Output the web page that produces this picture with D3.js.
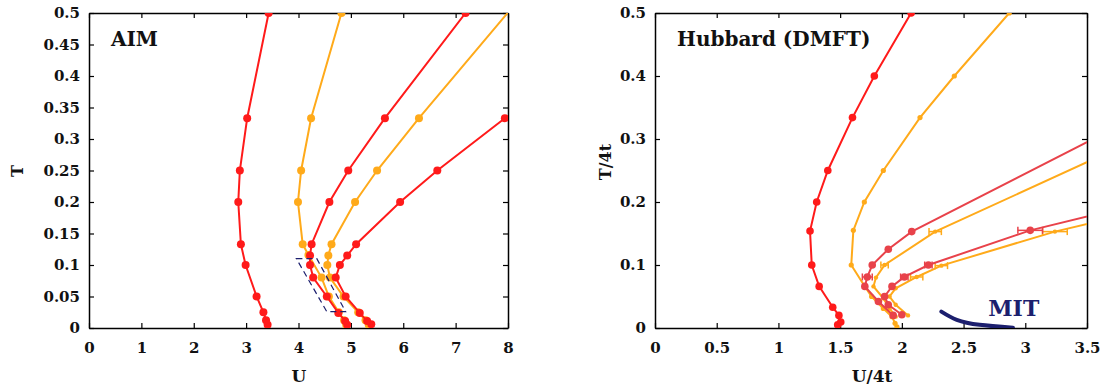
<!DOCTYPE html>
<html>
<head>
<meta charset="utf-8">
<script src="https://cdn.jsdelivr.net/npm/d3@7"></script>
<style>
  body { margin: 0; background: #fff; }
  svg text { font-family: "DejaVu Serif", serif; font-weight: bold; fill: #111; }
  .tick text { font-size: 15px; }
  .domain { stroke: #000; stroke-width: 1.5; }
  .tick line { stroke: #000; stroke-width: 1.2; }
</style>
</head>
<body>
<div id="chart"></div>
<script>
// ---- AIM panel (U, T) ----
var aimRed1U = [3.41, 3.38, 3.33, 3.2, 2.99, 2.9, 2.85, 2.88, 3.02, 3.43];
var aimRed1T = [0.005, 0.0125, 0.025, 0.05, 0.1, 0.133, 0.2, 0.25, 0.333, 0.5];
var aimOrange1U = [4.91, 4.87, 4.77, 4.58, 4.44, 4.19, 4.08, 3.99, 4.05, 4.24, 4.82];
var aimOrange1T = [0.005, 0.0125, 0.025, 0.05, 0.08, 0.116, 0.133, 0.2, 0.25, 0.333, 0.5];
var aimRed2U = [4.93, 4.89, 4.76, 4.54, 4.28, 4.22, 4.22, 4.25, 4.59, 4.95, 5.65, 7.19];
var aimRed2T = [0.005, 0.011, 0.024, 0.05, 0.08, 0.1, 0.115, 0.133, 0.2, 0.25, 0.333, 0.5];
var aimOrange2U = [5.34, 5.28, 5.14, 4.86, 4.6, 4.55, 4.57, 4.63, 5.08, 5.5, 6.3, 8.6];
var aimOrange2T = [0.005, 0.0125, 0.025, 0.05, 0.08, 0.1, 0.115, 0.133, 0.2, 0.25, 0.333, 0.56];
var aimRed3U = [5.39, 5.31, 5.17, 4.9, 4.71, 4.79, 4.93, 5.1, 5.94, 6.65, 7.94];
var aimRed3T = [0.006, 0.011, 0.024, 0.05, 0.08, 0.1, 0.115, 0.133, 0.2, 0.25, 0.333];
var boxU = [3.96, 4.35, 4.9, 4.54];
var boxT = [0.11, 0.11, 0.026, 0.026];

// ---- Hubbard (DMFT) panel (U/4t, T/4t) ----
var hubRed1U = [1.48, 1.505, 1.49, 1.44, 1.33, 1.27, 1.256, 1.31, 1.4, 1.6, 1.777, 2.075];
var hubRed1T = [0.005, 0.0095, 0.02, 0.033, 0.066, 0.1, 0.154, 0.2, 0.25, 0.334, 0.4, 0.5];
var hubOrange1U = [1.96, 1.945, 1.92, 1.85, 1.755, 1.70, 1.59, 1.607, 1.696, 1.85, 2.147, 2.425, 2.87];
var hubOrange1T = [0.002, 0.0075, 0.018, 0.031, 0.05, 0.066, 0.1, 0.155, 0.2, 0.25, 0.334, 0.4, 0.5];
var hubRed2U = [1.93, 1.81, 1.70, 1.72, 1.76, 1.89, 2.08, 4.0];
var hubRed2T = [0.02, 0.042, 0.066, 0.081, 0.1, 0.125, 0.153, 0.345];
var hubRed2Err = [0, 0, 0, 0.04, 0, 0, 0, 0];
var hubOrange2U = [1.95, 1.9, 1.85, 1.77, 1.79, 1.86, 2.27, 4.0];
var hubOrange2T = [0.018, 0.031, 0.047, 0.066, 0.08, 0.1, 0.153, 0.308];
var hubOrange2Err = [0, 0, 0, 0, 0, 0.03, 0.05, 0];
var hubRed3U = [2.0, 1.89, 1.86, 1.92, 2.02, 2.215, 3.04, 4.5];
var hubRed3T = [0.021, 0.037, 0.05, 0.066, 0.081, 0.1, 0.155, 0.225];
var hubRed3Err = [0, 0, 0, 0, 0.03, 0.03, 0.1, 0];
var hubOrange3U = [2.05, 1.95, 1.9, 1.95, 2.12, 2.32, 3.24, 4.5];
var hubOrange3T = [0.02, 0.037, 0.05, 0.063, 0.081, 0.099, 0.153, 0.211];
var hubOrange3Err = [0, 0, 0, 0, 0.05, 0.05, 0.1, 0];
var mitU = [2.32, 2.445, 2.63, 2.9];
var mitT = [0.026, 0.013, 0.005, 0.0005];

var aimXTicks = [0, 1, 2, 3, 4, 5, 6, 7, 8];
var aimYTicks = [0, 0.05, 0.1, 0.15, 0.2, 0.25, 0.3, 0.35, 0.4, 0.45, 0.5];
var hubXTicks = [0, 0.5, 1, 1.5, 2, 2.5, 3, 3.5];
var hubYTicks = [0, 0.1, 0.2, 0.3, 0.4, 0.5];

var RED = "#ff1a1a", ORANGE = "#ffaa1a", RED2 = "#e8424a", NAVY = "#1c1f6e";

let zip = (us, ts, errs)=> us.map((u, i)=> ({u: u, t: ts[i], e: errs ? errs[i] : 0}));

let svg = d3.select('#chart').append('svg')
  .attr('width', 1106).attr('height', 392);

let fmt = (d)=> d === 0 ? "0" : String(+d.toFixed(2));

let drawPanel = (opt)=> {
  let x = d3.scaleLinear().domain(opt.xDomain).range([opt.left, opt.right]);
  let y = d3.scaleLinear().domain([0, 0.5]).range([opt.bottom, opt.top]);

  let g = svg.append('g');
  let clipId = 'clip-' + opt.name;
  svg.append('clipPath').attr('id', clipId).append('rect')
    .attr('x', opt.left).attr('y', opt.top)
    .attr('width', opt.right - opt.left).attr('height', opt.bottom - opt.top);

  // axes, ticks pointing in
  g.append('g').attr('transform', `translate(0,${opt.bottom})`)
    .call(d3.axisBottom(x).tickValues(opt.xTicks).tickSizeInner(-5).tickSizeOuter(0).tickPadding(14).tickFormat(fmt));
  g.append('g').attr('transform', `translate(0,${opt.top})`)
    .call(d3.axisTop(x).tickValues(opt.xTicks).tickSizeInner(-5).tickSizeOuter(0).tickFormat(''));
  g.append('g').attr('transform', `translate(${opt.left},0)`)
    .call(d3.axisLeft(y).tickValues(opt.yTicks).tickSizeInner(-5).tickSizeOuter(0).tickPadding(9).tickFormat(fmt));
  g.append('g').attr('transform', `translate(${opt.right},0)`)
    .call(d3.axisRight(y).tickValues(opt.yTicks).tickSizeInner(-5).tickSizeOuter(0).tickFormat(''));
  g.selectAll('.tick text').attr('fill', '#111');

  let plot = g.append('g').attr('clip-path', `url(#${clipId})`);
  let line = d3.line().x((d)=> x(d.u)).y((d)=> y(d.t));

  opt.series.forEach((s)=> {
    let pts = zip(s.u, s.t, s.err);
    plot.append('path').datum(pts)
      .attr('fill', 'none').attr('stroke', s.color).attr('stroke-width', 2)
      .attr('d', line);
    // error bars
    let eb = pts.filter((d)=> d.e > 0);
    eb.forEach((d)=> {
      let eg = plot.append('g').attr('stroke', s.color).attr('stroke-width', 1.5);
      eg.append('line').attr('x1', x(d.u - d.e)).attr('x2', x(d.u + d.e))
        .attr('y1', y(d.t)).attr('y2', y(d.t));
      [d.u - d.e, d.u + d.e].forEach((v)=> {
        eg.append('line').attr('x1', x(v)).attr('x2', x(v))
          .attr('y1', y(d.t) - 3.5).attr('y2', y(d.t) + 3.5);
      });
    });
    plot.selectAll(null).data(pts).enter().append('circle')
      .attr('cx', (d)=> x(d.u)).attr('cy', (d)=> y(d.t))
      .attr('r', s.r).attr('fill', s.color);
  });

  if (opt.extra) opt.extra(plot, x, y);

  // labels
  g.append('text').attr('x', opt.left + 22).attr('y', 46)
    .style('font-size', '20px').text(opt.title);
  g.append('text').attr('x', opt.xLabelX).attr('y', 382)
    .attr('text-anchor', 'middle').style('font-size', '17px').text(opt.xLabel);
  g.append('text')
    .attr('transform', `translate(${opt.yLabelX},${opt.yLabelY}) rotate(-90)`)
    .attr('text-anchor', 'middle').style('font-size', '16px').text(opt.yLabel);
};

drawPanel({
  name: 'aim', left: 89, right: 508, top: 13, bottom: 328,
  xDomain: [0, 8], xTicks: aimXTicks, yTicks: aimYTicks,
  title: 'AIM', xLabel: 'U', xLabelX: 299, yLabel: 'T', yLabelX: 23, yLabelY: 171,
  series: [
    {u: aimRed1U, t: aimRed1T, color: RED, r: 4},
    {u: aimOrange1U, t: aimOrange1T, color: ORANGE, r: 4},
    {u: aimRed2U, t: aimRed2T, color: RED, r: 4},
    {u: aimOrange2U, t: aimOrange2T, color: ORANGE, r: 4},
    {u: aimRed3U, t: aimRed3T, color: RED, r: 4}
  ],
  extra: (plot, x, y)=> {
    let pts = zip(boxU, boxT);
    plot.append('path').datum(pts)
      .attr('fill', 'none').attr('stroke', NAVY).attr('stroke-width', 1.2)
      .attr('stroke-dasharray', '6,4')
      .attr('d', d3.line().x((d)=> x(d.u)).y((d)=> y(d.t)).curve(d3.curveLinearClosed));
  }
});

drawPanel({
  name: 'hub', left: 655, right: 1087, top: 13, bottom: 328,
  xDomain: [0, 3.5], xTicks: hubXTicks, yTicks: hubYTicks,
  title: 'Hubbard (DMFT)', xLabel: 'U/4t', xLabelX: 872, yLabel: 'T/4t', yLabelX: 611, yLabelY: 162,
  series: [
    {u: hubRed1U, t: hubRed1T, color: RED, r: 3.8},
    {u: hubOrange1U, t: hubOrange1T, color: ORANGE, r: 2.6},
    {u: hubOrange2U, t: hubOrange2T, err: hubOrange2Err, color: ORANGE, r: 2.2},
    {u: hubOrange3U, t: hubOrange3T, err: hubOrange3Err, color: ORANGE, r: 2.2},
    {u: hubRed2U, t: hubRed2T, err: hubRed2Err, color: RED2, r: 3.8},
    {u: hubRed3U, t: hubRed3T, err: hubRed3Err, color: RED2, r: 3.8}
  ],
  extra: (plot, x, y)=> {
    plot.append('path').datum(zip(mitU, mitT))
      .attr('fill', 'none').attr('stroke', NAVY).attr('stroke-width', 4)
      .attr('stroke-linecap', 'round')
      .attr('d', d3.line().x((d)=> x(d.u)).y((d)=> y(d.t)).curve(d3.curveNatural));
    plot.append('text').attr('x', x(2.7)).attr('y', 316)
      .style('font-size', '22px').style('fill', NAVY).text('MIT');
  }
});
</script>
</body>
</html>
